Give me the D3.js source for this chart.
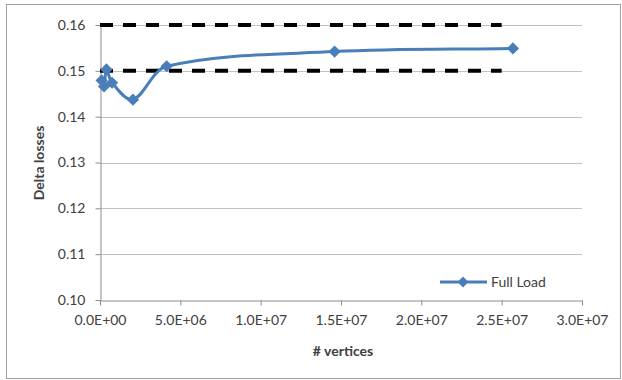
<!DOCTYPE html>
<html><head><meta charset="utf-8">
<script src="https://cdn.jsdelivr.net/npm/d3@7"></script>
<style>body{margin:0;background:#fff}svg{display:block}text{font-family:Lato,"Open Sans",sans-serif;fill:#404040}</style>
</head><body><svg id="c" width="622" height="380"></svg>
<script>
const vertices = [1.0e5, 2.5e5, 4.0e5, 7.5e5, 2.05e6, 4.15e6, 1.46e7, 2.57e7];
const deltaLosses = [0.1479, 0.1466, 0.1503, 0.1474, 0.1437, 0.1510, 0.1542, 0.1549];
const bounds = [0.16, 0.15];
const boundsRange = [0, 2.5e7];
const xTicks = [0, 5e6, 1e7, 1.5e7, 2e7, 2.5e7, 3e7];
const yTicks = [0.10, 0.11, 0.12, 0.13, 0.14, 0.15, 0.16];
const seriesName = "Full Load";

// Excel-like smoothing curve: Catmull-Rom tangent direction, arm lengths scaled by segment lengths
function excelSmooth(context) {
  return {
    areaStart() {}, areaEnd() {},
    lineStart() { this._p = []; },
    point(x, y) { this._p.push([+x, +y]); },
    lineEnd() {
      const p = this._p, n = p.length;
      if (!n) return;
      context.moveTo(p[0][0], p[0][1]);
      const dist = (a, b) => Math.hypot(b[0] - a[0], b[1] - a[1]);
      const tan = i => {
        const a = p[Math.max(0, i - 1)], b = p[Math.min(n - 1, i + 1)];
        return [b[0] - a[0], b[1] - a[1]];
      };
      const segLen = i => (i < 0 || i >= n - 1) ? 0 : dist(p[i], p[i + 1]);
      for (let i = 0; i < n - 1; i++) {
        const Ti = tan(i), Tj = tan(i + 1);
        const L = segLen(i);
        const si = (i === 0) ? 1 / 3 : L / (segLen(i - 1) + L) / 3;
        const sj = (i + 1 === n - 1) ? 1 / 3 : L / (L + segLen(i + 1)) / 3;
        context.bezierCurveTo(
          p[i][0] + Ti[0] * si, p[i][1] + Ti[1] * si,
          p[i + 1][0] - Tj[0] * sj, p[i + 1][1] - Tj[1] * sj,
          p[i + 1][0], p[i + 1][1]);
      }
    }
  };
}

const svg = d3.select("#c");
const blue = "#4a7ebb";
const x = d3.scaleLinear().domain([0, 3e7]).range([100, 582]);
const y = d3.scaleLinear().domain([0.10, 0.16]).range([300, 25]);

// outer border
svg.append("rect").attr("x", 6.5).attr("y", 4.5).attr("width", 614).attr("height", 374)
  .attr("fill", "none").attr("stroke", "#a0a0a0").attr("stroke-width", 1);

// gridlines
svg.append("g").selectAll("line").data(yTicks.slice(1)).join("line")
  .attr("x1", x(0)).attr("x2", x(3e7)).attr("y1", d => Math.round(y(d)) + 0.5).attr("y2", d => Math.round(y(d)) + 0.5)
  .attr("stroke", "#c0c0c0").attr("stroke-width", 1.2);

const fmtX = d => d === 0 ? "0.0E+00" : d.toExponential(1).replace("e+", "E+0");
const xAxis = svg.append("g").attr("transform", `translate(0,${Math.round(y(0.10)) + 0.5})`)
  .call(d3.axisBottom(x).tickValues(xTicks).tickFormat(fmtX).tickSize(5).tickSizeOuter(0).tickPadding(10));
const yAxis = svg.append("g").attr("transform", `translate(${x(0) + 0.5},0)`)
  .call(d3.axisLeft(y).tickValues(yTicks).tickFormat(d3.format(".2f")).tickSize(5).tickSizeOuter(0).tickPadding(10));
[xAxis, yAxis].forEach(g => {
  g.select(".domain").attr("stroke", "#8c8c8c");
  g.selectAll(".tick line").attr("stroke", "#8c8c8c");
  g.selectAll("text").attr("font-size", 14).attr("fill", "#404040").attr("font-family", "Lato, sans-serif");
});

// dashed bounds
svg.append("g").selectAll("line").data(bounds).join("line")
  .attr("x1", x(boundsRange[0])).attr("x2", x(boundsRange[1]))
  .attr("y1", d => y(d)).attr("y2", d => y(d))
  .attr("stroke", "#000").attr("stroke-width", 4).attr("stroke-dasharray", "13,10");

// series line
const pts = vertices.map((v, i) => [v, deltaLosses[i]]);
svg.append("path").datum(pts)
  .attr("d", d3.line().x(d => x(d[0])).y(d => y(d[1])).curve(excelSmooth))
  .attr("fill", "none").attr("stroke", blue).attr("stroke-width", 3);

svg.append("g").selectAll("path").data(pts).join("path")
  .attr("transform", d => `translate(${x(d[0])},${y(d[1])}) rotate(45)`)
  .attr("d", d3.symbol().type(d3.symbolSquare).size(75))
  .attr("fill", blue);

// legend
svg.append("line").attr("x1", 440).attr("x2", 487).attr("y1", 282).attr("y2", 282)
  .attr("stroke", blue).attr("stroke-width", 3);
svg.append("path").attr("transform", "translate(463,282) rotate(45)")
  .attr("d", d3.symbol().type(d3.symbolSquare).size(60)).attr("fill", blue);
svg.append("text").attr("x", 491).attr("y", 287).attr("font-size", 14).text(seriesName);

// axis titles
svg.append("text").attr("x", 343).attr("y", 356).attr("text-anchor", "middle")
  .attr("font-size", 14).attr("font-weight", "bold").attr("fill", "#262626").text("# vertices");
svg.append("text").attr("transform", "translate(44,163) rotate(-90)").attr("text-anchor", "middle")
  .attr("font-size", 14).attr("font-weight", "bold").attr("fill", "#262626").text("Delta losses");
</script></body></html>
